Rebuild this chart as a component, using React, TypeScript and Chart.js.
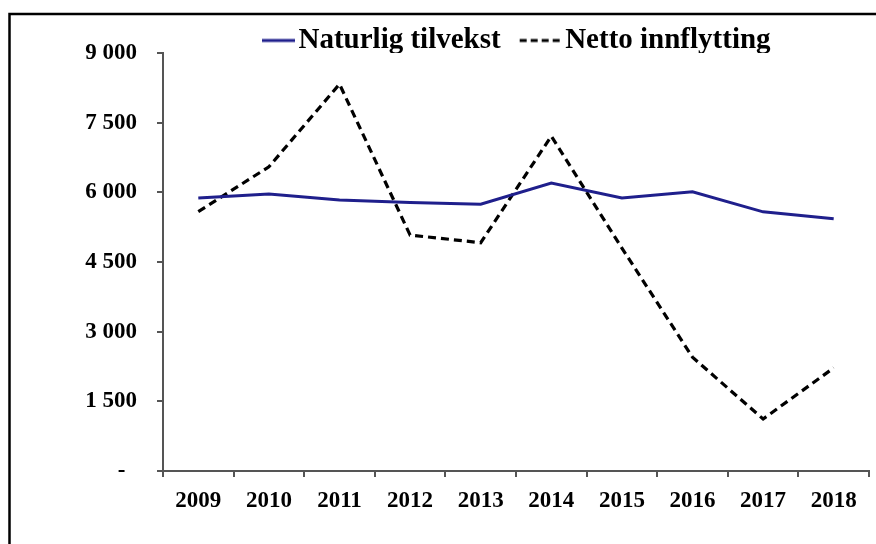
import React, { useEffect, useRef } from "react";
import { Chart, registerables } from "chart.js";

Chart.register(...registerables);

const years = ["2009", "2010", "2011", "2012", "2013", "2014", "2015", "2016", "2017", "2018"];
const naturligTilvekst = [5880, 5965, 5835, 5780, 5745, 6200, 5880, 6010, 5580, 5430];
const nettoInnflytting = [5585, 6550, 8330, 5080, 4915, 7210, 4800, 2450, 1120, 2220];
const yTicks = [0, 1500, 3000, 4500, 6000, 7500, 9000];
const seriesNames = ["Naturlig tilvekst", "Netto innflytting"];

const FONT = "'Liberation Serif', 'Times New Roman', serif";
const BLUE = "#1f1f8c";

// legend symbol image: line ends 16px right of the image centre
function legendSymbol(len: number, color: string, dash: number[]) {
  const w = 2 * len + 40;
  const c = document.createElement("canvas");
  c.width = w;
  c.height = 6;
  const ctx = c.getContext("2d")!;
  ctx.strokeStyle = color;
  ctx.lineWidth = 3;
  ctx.setLineDash(dash);
  ctx.beginPath();
  ctx.moveTo(w / 2 + 16 - len, 3);
  ctx.lineTo(w / 2 + 16, 3);
  ctx.stroke();
  return c;
}

const framePlugin = {
  id: "frame",
  beforeInit(chart: any) {
    if (chart.legend) {
      const orig = chart.legend.fit;
      chart.legend.fit = function () {
        orig.call(this);
        this.height = 53;
      };
    }
  },
  afterLayout(chart: any) {
    const lg = chart.legend;
    if (lg) {
      lg.left = 234;
      lg.right = 876;
      lg.top = -14;
    }
  },
  afterDraw(chart: any) {
    const ctx = chart.ctx;
    ctx.save();
    ctx.strokeStyle = "#000";
    ctx.lineWidth = 2.5;
    ctx.setLineDash([]);
    ctx.beginPath();
    ctx.moveTo(9.5, 544);
    ctx.lineTo(9.5, 14);
    ctx.lineTo(876, 14);
    ctx.stroke();
    ctx.restore();
  },
};

function fmt(v: number): string {
  if (v === 0) return "-  ";
  return String(v).replace(/\B(?=(\d{3})+(?!\d))/g, " ");
}

export default function App() {
  const ref = useRef<HTMLCanvasElement>(null);
  useEffect(() => {
    if (!ref.current) return;
    const chart = new Chart(ref.current, {
      type: "line",
      data: {
        labels: years,
        datasets: [
          {
            label: seriesNames[0],
            data: naturligTilvekst,
            borderColor: BLUE,
            backgroundColor: BLUE,
            borderWidth: 3,
            pointRadius: 0,
            tension: 0,
            pointStyle: legendSymbol(33, BLUE, []) as any,
          },
          {
            label: seriesNames[1],
            data: nettoInnflytting,
            borderColor: "#000",
            backgroundColor: "#000",
            borderWidth: 3.2,
            borderDash: [8, 5],
            pointRadius: 0,
            tension: 0,
            pointStyle: legendSymbol(42, "#000", [7, 4]) as any,
          },
        ],
      },
      options: {
        responsive: false,
        animation: false,
        layout: { padding: { left: 0, right: 7, top: 0, bottom: 0 } },
        plugins: {
          tooltip: { enabled: false },
          legend: {
            display: true,
            position: "top",
            align: "start",
            labels: {
              usePointStyle: true,
              boxWidth: 10,
              boxHeight: 10,
              padding: 40,
              color: "#000",
              font: { family: FONT, size: 29, weight: "bold" },
            },
          },
        },
        scales: {
          x: {
            offset: true,
            grid: {
              display: true,
              drawOnChartArea: false,
              drawTicks: true,
              tickLength: 6,
              color: "#555",
              lineWidth: 2,
              offset: true,
            },
            border: { display: true, color: "#555", width: 2 },
            ticks: {
              color: "#000",
              padding: 10,
              maxRotation: 0,
              font: { family: FONT, size: 23, weight: "bold" },
            },
            afterFit: (s: any) => {
              s.height = 73;
            },
          },
          y: {
            min: 0,
            max: 9000,
            afterBuildTicks: (s: any) => {
              s.ticks = yTicks.map((v) => ({ value: v }));
            },
            grid: {
              display: true,
              drawOnChartArea: false,
              drawTicks: true,
              tickLength: 6,
              color: "#555",
              lineWidth: 2,
            },
            border: { display: true, color: "#555", width: 2 },
            ticks: {
              color: "#000",
              padding: 20,
              font: { family: FONT, size: 23, weight: "bold" },
              callback: (v: any) => fmt(Number(v)),
            },
            afterFit: (s: any) => {
              s.width = 163;
            },
          },
        },
      },
      plugins: [framePlugin],
    });
    return () => chart.destroy();
  }, []);
  return (
    <div style={{ position: "fixed", left: 0, top: 0, width: 876, height: 544, background: "#fff" }}>
      <canvas ref={ref} width={876} height={544} style={{ display: "block" }} />
    </div>
  );
}
